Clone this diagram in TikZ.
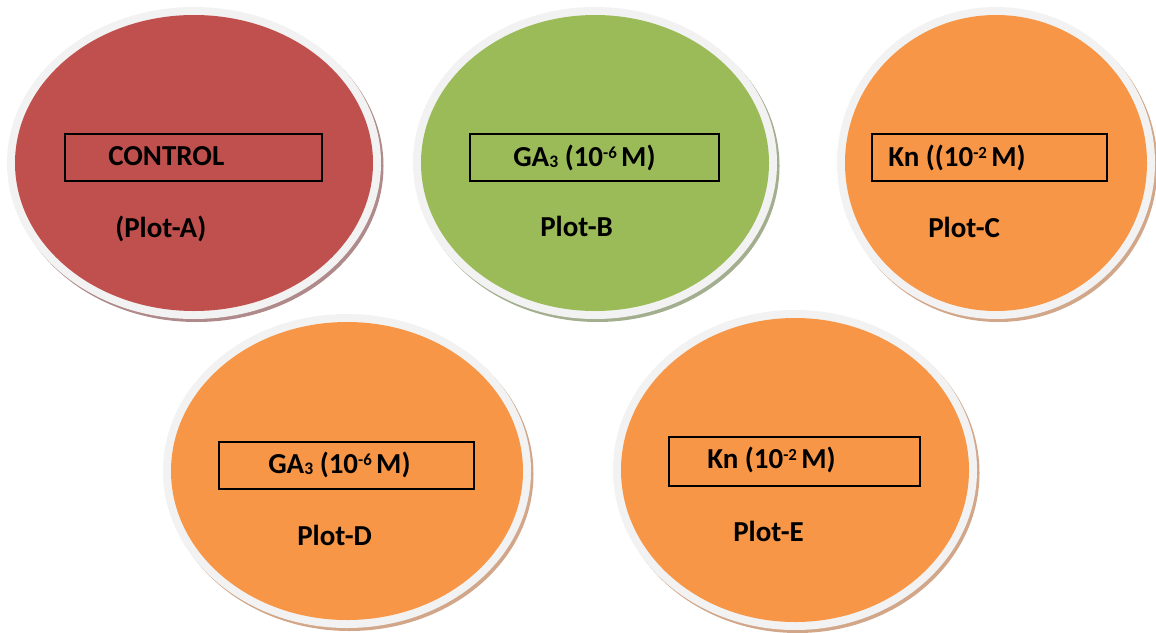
\documentclass[tikz,border=0pt]{standalone}
\usepackage{fontspec}
\setmainfont{Carlito}
\usetikzlibrary{calc}

\definecolor{plateRed}{HTML}{C0504D}
\definecolor{plateGreen}{HTML}{9BBB59}
\definecolor{plateOrange}{HTML}{F79646}
\definecolor{rimGray}{HTML}{F2F2F2}
\definecolor{shadeRed}{HTML}{B08A8A}
\definecolor{shadeGreen}{HTML}{A3AE8E}
\definecolor{shadeOrange}{HTML}{D2A789}

% small raised and lowered figures
\newcommand{\upfig}[1]{\raisebox{5.6pt}{\fontsize{12}{12}\selectfont\bfseries #1}}
\newcommand{\downfig}[1]{\raisebox{-0.8pt}{\fontsize{12.5}{12}\selectfont\bfseries #1}}

% A dish: soft shadow, pale rim, coloured medium.
% #1 centre name, #2 x, #3 y, #4 outer x radius, #5 outer y radius, #6 fill, #7 shadow
\newcommand{\petridish}[7]{%
  \coordinate (#1) at (#2,#3);
  \fill[#7] ($(#1)+(2.5,3)$) ellipse [x radius=#4*0.025cm, y radius=#5*0.025cm];
  \fill[rimGray] (#1) ellipse [x radius=#4*0.025cm, y radius=#5*0.025cm];
  \fill[#6] (#1) ellipse [x radius=(#4-8)*0.025cm, y radius=(#5-8)*0.025cm];
}

\tikzset{
  labelbox/.style={draw=black, line width=1.4pt, minimum height=47*0.025cm, inner sep=0pt},
  lbl/.style={anchor=base west, inner sep=0pt, font=\fontsize{20.6}{24}\selectfont\bfseries},
}

\begin{document}
\begin{tikzpicture}[x=0.025cm, y=-0.025cm]
  \useasboundingbox (0,0) rectangle (1156,632);

  % top row
  \petridish{plateA}{194}{163}{187}{156}{plateRed}{shadeRed}
  \petridish{plateB}{595}{163}{182}{156}{plateGreen}{shadeGreen}
  \petridish{plateC}{996}{163}{159}{156}{plateOrange}{shadeOrange}
  % bottom row
  \petridish{plateD}{347}{471}{184}{157}{plateOrange}{shadeOrange}
  \petridish{plateE}{795}{470}{182}{160}{plateOrange}{shadeOrange}

  % treatment boxes
  \node[labelbox, minimum width=257*0.025cm] (boxA) at (193.5,157.5) {};
  \node[labelbox, minimum width=249*0.025cm] (boxB) at (594.5,157.5) {};
  \node[labelbox, minimum width=235*0.025cm] (boxC) at (989.5,157.5) {};
  \node[labelbox, minimum width=255*0.025cm] (boxD) at (346.5,465.5) {};
  \node[labelbox, minimum width=251*0.025cm, minimum height=49*0.025cm] (boxE) at (794.5,461.5) {};

  % treatment texts
  \node[lbl] (txtA) at (108,165) {CONTROL};
  \node[lbl] (txtB) at (513,166) {GA\downfig{3} (10\upfig{-6}\hspace{0.15em}M)};
  \node[lbl] (txtC) at (888,166) {Kn ((10\upfig{-2}\hspace{0.15em}M)};
  \node[lbl] (txtD) at (268,473) {GA\downfig{3} (10\upfig{-6}\hspace{0.15em}M)};
  \node[lbl] (txtE) at (707,468) {Kn (10\upfig{-2}\hspace{0.15em}M)};

  % plot names
  \node[lbl] (plotA) at (115,237) {(Plot-A)};
  \node[lbl] (plotB) at (540,236) {Plot-B};
  \node[lbl] (plotC) at (928,237) {Plot-C};
  \node[lbl] (plotD) at (297,545) {Plot-D};
  \node[lbl] (plotE) at (733,541) {Plot-E};
\end{tikzpicture}
\end{document}
